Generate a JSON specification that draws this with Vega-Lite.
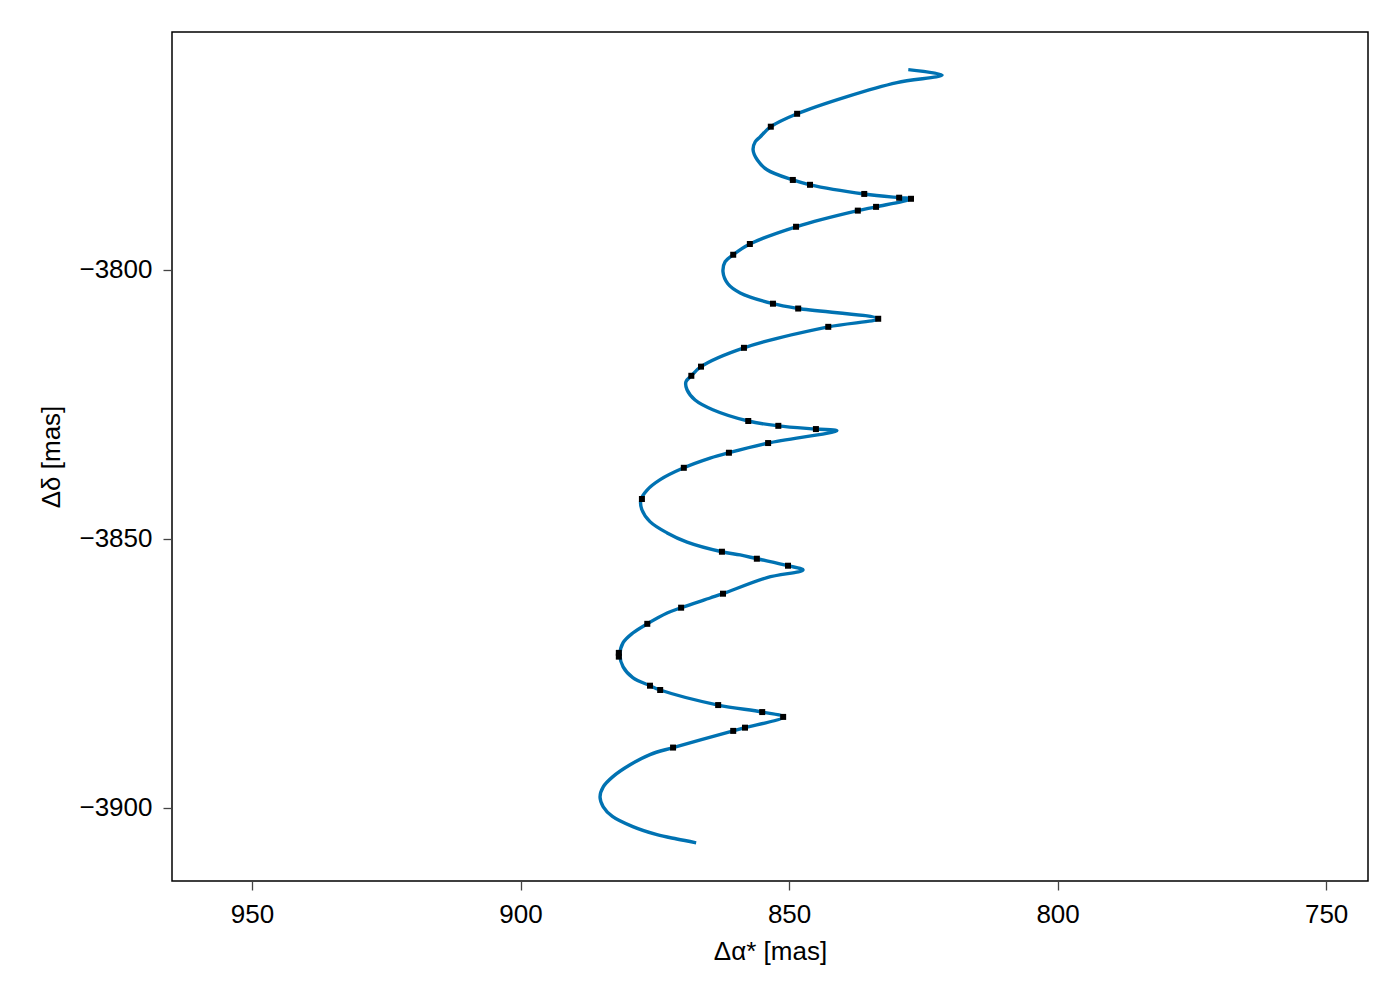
{
  "$schema": "https://vega.github.io/schema/vega-lite/v6.json",
  "width": 1196,
  "height": 849,
  "autosize": {"type": "none"},
  "padding": {"left": 172, "top": 32, "right": 32, "bottom": 119},
  "background": "white",
  "config": {
    "font": "Liberation Sans",
    "view": {"stroke": "black", "strokeWidth": 1.5},
    "axis": {
      "grid": false,
      "domain": false,
      "ticks": true,
      "tickSize": 9,
      "tickWidth": 1.3,
      "tickColor": "#444444",
      "labelFont": "Liberation Sans",
      "labelFontSize": 26,
      "labelColor": "black",
      "titleFont": "Liberation Sans",
      "titleFontSize": 26,
      "titleFontWeight": "normal",
      "titleColor": "black"
    }
  },
  "datasets": {
    "curve": [
      {"i": 1, "ra": 867.3, "dec": -3906.5},
      {"i": 2, "ra": 870.9, "dec": -3905.8},
      {"i": 3, "ra": 874.6, "dec": -3905.0},
      {"i": 4, "ra": 879.1, "dec": -3903.5},
      {"i": 5, "ra": 882.9, "dec": -3901.6},
      {"i": 6, "ra": 884.6, "dec": -3899.8},
      {"i": 7, "ra": 885.2, "dec": -3898.0},
      {"i": 8, "ra": 884.6, "dec": -3896.1},
      {"i": 9, "ra": 882.8, "dec": -3894.2},
      {"i": 10, "ra": 879.6, "dec": -3892.0},
      {"i": 11, "ra": 875.9, "dec": -3890.1},
      {"i": 12, "ra": 871.6, "dec": -3888.8},
      {"i": 13, "ra": 860.4, "dec": -3885.7},
      {"i": 14, "ra": 858.2, "dec": -3885.1},
      {"i": 15, "ra": 851.1, "dec": -3883.1},
      {"i": 16, "ra": 855.0, "dec": -3882.2},
      {"i": 17, "ra": 863.2, "dec": -3880.9},
      {"i": 20, "ra": 874.0, "dec": -3878.1},
      {"i": 21, "ra": 875.9, "dec": -3877.3},
      {"i": 22, "ra": 879.1, "dec": -3875.8},
      {"i": 23, "ra": 880.9, "dec": -3873.8},
      {"i": 24, "ra": 881.5, "dec": -3871.6},
      {"i": 25, "ra": 880.9, "dec": -3869.3},
      {"i": 26, "ra": 879.1, "dec": -3867.5},
      {"i": 27, "ra": 876.4, "dec": -3865.8},
      {"i": 28, "ra": 872.7, "dec": -3863.8},
      {"i": 29, "ra": 870.1, "dec": -3862.8},
      {"i": 30, "ra": 864.7, "dec": -3861.0},
      {"i": 31, "ra": 862.3, "dec": -3860.2},
      {"i": 32, "ra": 854.1, "dec": -3857.2},
      {"i": 33, "ra": 847.4, "dec": -3855.8},
      {"i": 34, "ra": 850.2, "dec": -3855.0},
      {"i": 35, "ra": 856.0, "dec": -3853.7},
      {"i": 36, "ra": 859.1, "dec": -3853.0},
      {"i": 37, "ra": 862.5, "dec": -3852.4},
      {"i": 38, "ra": 869.0, "dec": -3850.6},
      {"i": 39, "ra": 872.7, "dec": -3848.9},
      {"i": 40, "ra": 875.9, "dec": -3846.8},
      {"i": 41, "ra": 877.4, "dec": -3844.6},
      {"i": 42, "ra": 877.6, "dec": -3842.8},
      {"i": 43, "ra": 876.4, "dec": -3840.9},
      {"i": 44, "ra": 874.0, "dec": -3839.0},
      {"i": 45, "ra": 869.6, "dec": -3836.8},
      {"i": 46, "ra": 864.7, "dec": -3835.0},
      {"i": 47, "ra": 861.2, "dec": -3834.0},
      {"i": 48, "ra": 853.9, "dec": -3832.2},
      {"i": 49, "ra": 841.1, "dec": -3829.9},
      {"i": 50, "ra": 845.0, "dec": -3829.6},
      {"i": 51, "ra": 852.0, "dec": -3829.0},
      {"i": 52, "ra": 857.6, "dec": -3828.1},
      {"i": 53, "ra": 864.2, "dec": -3826.0},
      {"i": 54, "ra": 867.5, "dec": -3824.2},
      {"i": 55, "ra": 869.0, "dec": -3822.3},
      {"i": 56, "ra": 869.2, "dec": -3820.8},
      {"i": 57, "ra": 868.2, "dec": -3819.7},
      {"i": 58, "ra": 866.4, "dec": -3818.0},
      {"i": 59, "ra": 858.4, "dec": -3814.5},
      {"i": 60, "ra": 842.7, "dec": -3810.6},
      {"i": 61, "ra": 833.4, "dec": -3809.1},
      {"i": 62, "ra": 848.3, "dec": -3807.2},
      {"i": 63, "ra": 853.0, "dec": -3806.3},
      {"i": 64, "ra": 859.1, "dec": -3804.3},
      {"i": 65, "ra": 861.4, "dec": -3802.6},
      {"i": 66, "ra": 862.3, "dec": -3800.4},
      {"i": 67, "ra": 861.9, "dec": -3798.5},
      {"i": 68, "ra": 860.4, "dec": -3797.2},
      {"i": 69, "ra": 857.3, "dec": -3795.2},
      {"i": 70, "ra": 848.7, "dec": -3792.0},
      {"i": 71, "ra": 837.2, "dec": -3789.0},
      {"i": 72, "ra": 833.8, "dec": -3788.3},
      {"i": 73, "ra": 827.3, "dec": -3786.8},
      {"i": 74, "ra": 829.5, "dec": -3786.6},
      {"i": 75, "ra": 836.0, "dec": -3785.9},
      {"i": 76, "ra": 846.1, "dec": -3784.2},
      {"i": 77, "ra": 849.3, "dec": -3783.3},
      {"i": 78, "ra": 854.1, "dec": -3781.4},
      {"i": 79, "ra": 855.9, "dec": -3779.6},
      {"i": 80, "ra": 856.7, "dec": -3777.7},
      {"i": 81, "ra": 856.3, "dec": -3776.2},
      {"i": 82, "ra": 855.4, "dec": -3775.3},
      {"i": 83, "ra": 853.4, "dec": -3773.4},
      {"i": 84, "ra": 848.5, "dec": -3771.0},
      {"i": 85, "ra": 839.2, "dec": -3767.8},
      {"i": 86, "ra": 829.9, "dec": -3765.2},
      {"i": 87, "ra": 821.5, "dec": -3763.8},
      {"i": 88, "ra": 827.8, "dec": -3762.8}
    ],
    "obs": [
      {"ra": 871.6, "dec": -3888.8},
      {"ra": 860.4, "dec": -3885.7},
      {"ra": 858.2, "dec": -3885.1},
      {"ra": 851.1, "dec": -3883.1},
      {"ra": 855.0, "dec": -3882.2},
      {"ra": 863.2, "dec": -3880.9},
      {"ra": 874.0, "dec": -3878.1},
      {"ra": 875.9, "dec": -3877.3},
      {"ra": 881.7, "dec": -3871.2},
      {"ra": 881.7, "dec": -3871.9},
      {"ra": 876.4, "dec": -3865.8},
      {"ra": 870.1, "dec": -3862.8},
      {"ra": 862.3, "dec": -3860.2},
      {"ra": 850.2, "dec": -3855.0},
      {"ra": 856.0, "dec": -3853.7},
      {"ra": 862.5, "dec": -3852.4},
      {"ra": 877.4, "dec": -3842.6},
      {"ra": 869.6, "dec": -3836.8},
      {"ra": 861.2, "dec": -3834.0},
      {"ra": 853.9, "dec": -3832.2},
      {"ra": 845.0, "dec": -3829.6},
      {"ra": 852.0, "dec": -3829.0},
      {"ra": 857.6, "dec": -3828.1},
      {"ra": 868.2, "dec": -3819.7},
      {"ra": 866.4, "dec": -3818.0},
      {"ra": 858.4, "dec": -3814.5},
      {"ra": 842.7, "dec": -3810.6},
      {"ra": 833.4, "dec": -3809.1},
      {"ra": 848.3, "dec": -3807.2},
      {"ra": 853.0, "dec": -3806.3},
      {"ra": 860.4, "dec": -3797.2},
      {"ra": 857.3, "dec": -3795.2},
      {"ra": 848.7, "dec": -3792.0},
      {"ra": 837.2, "dec": -3789.0},
      {"ra": 833.8, "dec": -3788.3},
      {"ra": 827.3, "dec": -3786.8},
      {"ra": 829.5, "dec": -3786.6},
      {"ra": 836.0, "dec": -3785.9},
      {"ra": 846.1, "dec": -3784.2},
      {"ra": 849.3, "dec": -3783.3},
      {"ra": 853.4, "dec": -3773.4},
      {"ra": 848.5, "dec": -3771.0}
    ]
  },
  "encoding": {
    "x": {
      "field": "ra",
      "type": "quantitative",
      "title": "Δα* [mas]",
      "scale": {"domain": [742.2, 964.9], "reverse": true, "nice": false, "zero": false},
      "axis": {"values": [750, 800, 850, 900, 950], "format": "d", "labelPadding": 11, "titlePadding": 11}
    },
    "y": {
      "field": "dec",
      "type": "quantitative",
      "title": "Δδ [mas]",
      "scale": {"domain": [-3913.6, -3755.8], "nice": false, "zero": false},
      "axis": {"values": [-3900, -3850, -3800], "format": "d", "labelPadding": 11, "titlePadding": 14}
    }
  },
  "layer": [
    {
      "data": {"name": "curve"},
      "mark": {"type": "line", "color": "#0072B2", "strokeWidth": 3.4, "interpolate": "catmull-rom", "clip": true},
      "encoding": {"order": {"field": "i", "type": "quantitative"}}
    },
    {
      "data": {"name": "obs"},
      "mark": {"type": "point", "shape": "square", "filled": true, "color": "black", "opacity": 1, "size": 36}
    }
  ]
}
